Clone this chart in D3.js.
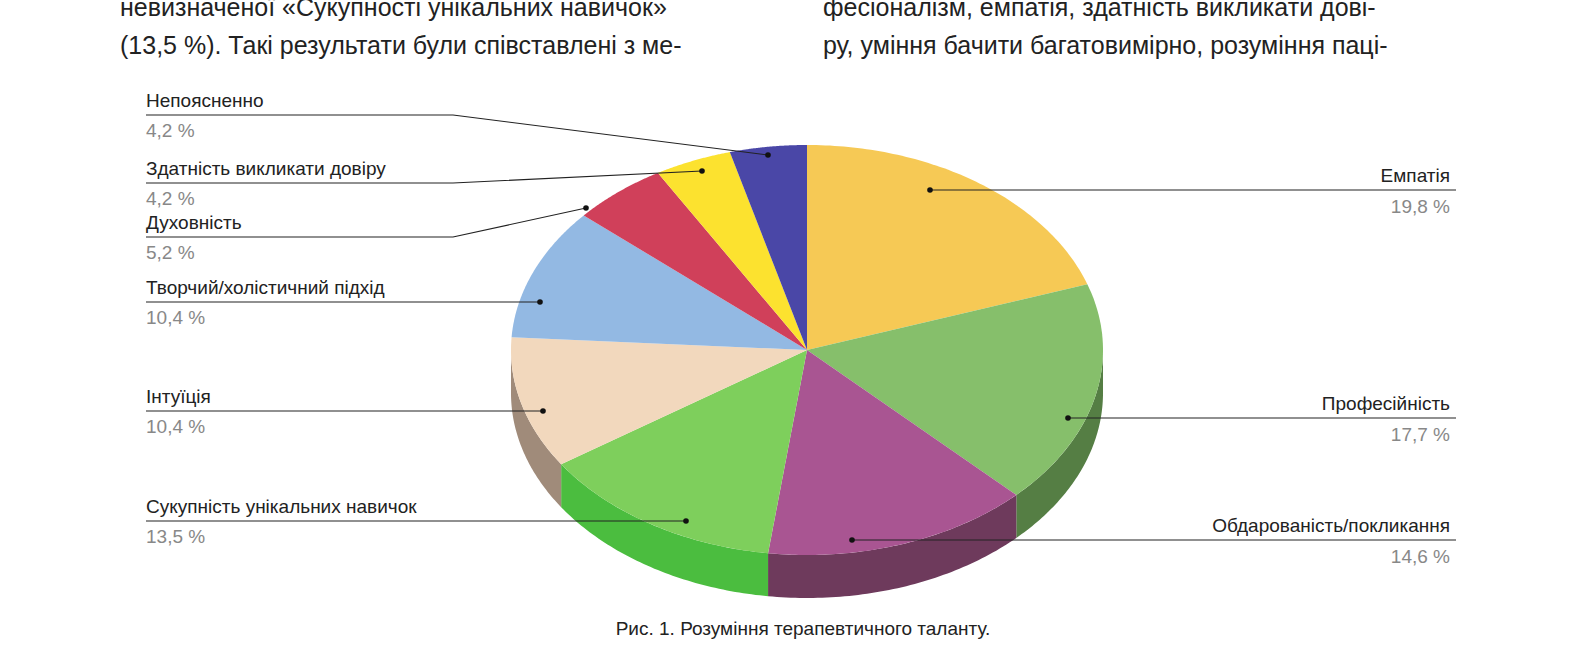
<!DOCTYPE html>
<html><head><meta charset="utf-8">
<script src="https://cdn.jsdelivr.net/npm/d3@7"></script>
<style>body{margin:0;background:#fff}text{font-family:"Liberation Sans",Arial,sans-serif}</style>
</head><body><svg id="c" width="1587" height="667"></svg>
<script>
const categories=["Емпатія","Професійність","Обдарованість/покликання","Сукупність унікальних навичок","Інтуїція","Творчий/холістичний підхід","Духовність","Здатність викликати довіру","Непоясненно"];
const values=[19.8,17.7,14.6,13.5,10.4,10.4,5.2,4.2,4.2];
const topColors=["#F6C955","#86BF6B","#A95592","#7ECF5C","#F2D8BD","#93B9E3","#D0405A","#FCE22F","#4A47A7"];
const sideColors=["#B89535","#557E44","#6E3A5C","#4BBD3F","#A08B7A","#6A88A8","#8E2B3D","#B8A020","#2F2D70"];
const labelLayout=[["r",190,930,190],["r",418,1068,418],["r",540,852,540],["l",521,686,521],["l",411,543,411],["l",302,540,302],["l",237,586,208],["l",183,702,171],["l",115,768,155]];

const svg=d3.select("#c");
const cx=807,cy=350,rx=296,ry=205,depth=43;
const pie=d3.pie().sort(null).value(d=>d)(values);
const pt=(a,dy=0)=>[cx+rx*Math.sin(a),cy-ry*Math.cos(a)+dy];

pie.forEach((s,i)=>{
  const a0=Math.max(s.startAngle,Math.PI/2),a1=Math.min(s.endAngle,3*Math.PI/2);
  if(a1<=a0)return;
  const n=60,top=[],bot=[];
  for(let k=0;k<=n;k++){const a=a0+(a1-a0)*k/n;top.push(pt(a));bot.push(pt(a,depth));}
  svg.append("path").attr("d",d3.line()(top.concat(bot.reverse()))+"Z").attr("fill",sideColors[i]);
});
pie.forEach((s,i)=>{
  const n=80,pts=[[cx,cy]];
  for(let k=0;k<=n;k++)pts.push(pt(s.startAngle+(s.endAngle-s.startAngle)*k/n));
  svg.append("path").attr("d",d3.line()(pts)+"Z").attr("fill",topColors[i]);
});
const fmt=v=>String(v).replace(".",",")+" %";
categories.forEach((c,i)=>{
  const [side,ly,dx,dy]=labelLayout[i];
  const g=svg.append("g");
  if(side==="r"){
    g.append("polyline").attr("points",`${dx},${dy} 1456,${ly}`).attr("fill","none").attr("stroke","#222").attr("stroke-width",1.2);
    g.append("text").attr("x",1450).attr("y",ly-8).attr("text-anchor","end").attr("font-size",19).attr("fill","#222").text(c);
    g.append("text").attr("x",1450).attr("y",ly+23).attr("text-anchor","end").attr("font-size",19).attr("fill","#888").text(fmt(values[i]));
  }else{
    const bx=Math.min(453,dx);
    g.append("polyline").attr("points",`146,${ly} ${bx},${ly} ${dx},${dy}`).attr("fill","none").attr("stroke","#222").attr("stroke-width",1.2);
    g.append("text").attr("x",146).attr("y",ly-8).attr("font-size",19).attr("fill","#222").text(c);
    g.append("text").attr("x",146).attr("y",ly+22).attr("font-size",19).attr("fill","#888").text(fmt(values[i]));
  }
  g.append("circle").attr("cx",dx).attr("cy",dy).attr("r",2.8).attr("fill","#111");
});
svg.append("text").attr("x",803).attr("y",635).attr("text-anchor","middle").attr("font-size",19).attr("fill","#222").text("Рис. 1. Розуміння терапевтичного таланту.");
const body=[[120,16,"невизначеної «Сукупності унікальних навичок»"],[120,54,"(13,5 %). Такі результати були співставлені з ме-"],[823,16,"фесіоналізм, емпатія, здатність викликати дові-"],[823,54,"ру, уміння бачити багатовимірно, розуміння паці-"]];
body.forEach(b=>svg.append("text").attr("x",b[0]).attr("y",b[1]).attr("font-size",25).attr("fill","#222").text(b[2]));
</script></body></html>
